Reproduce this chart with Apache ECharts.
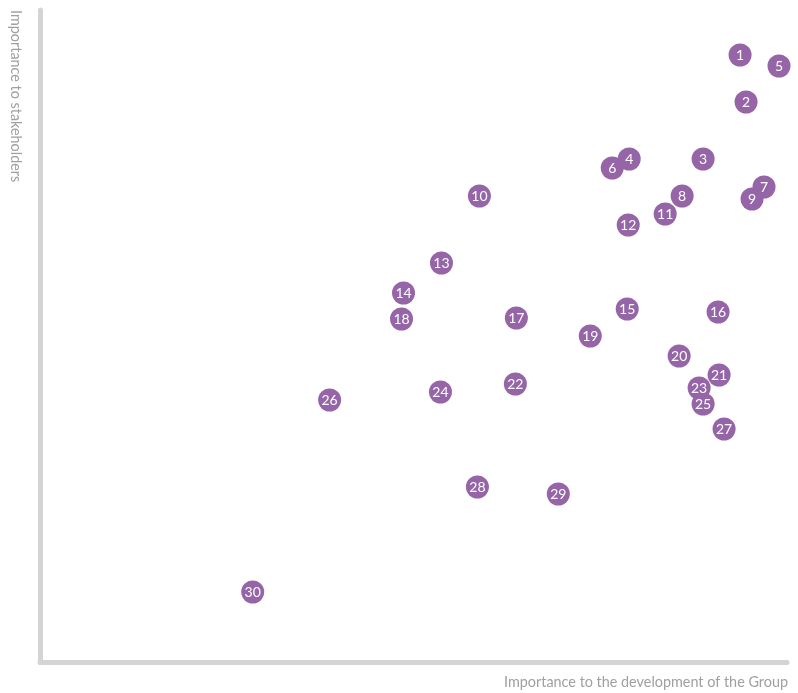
<!DOCTYPE html>
<html><head><meta charset="utf-8">
<script src="https://cdn.jsdelivr.net/npm/echarts@6/dist/echarts.min.js"></script>
<style>html,body{margin:0;padding:0;background:#fff}#c{width:798px;height:693px}</style>
</head><body><div id="c"></div>
<script>
// Issue ids and their positions (x: importance to Group development, y: importance to stakeholders)
const ids = [1,2,3,4,5,6,7,8,9,10,11,12,13,14,15,16,17,18,19,20,21,22,23,24,25,26,27,28,29,30];
const xVals = [701,707,664,590,740,573,725,643,713,440,626,589,402,364,588,679,477,362,551,640,680,476,660,401,664,290,685,438,519,213];
const yVals = [607,560,503,503,596,494,475,466,463,466,448,437,399,369,353,350,344,343,326,306,287,278,274,270,258,262,233,175,168,70];
const xName = 'Importance to the development of the Group';
const yName = 'Importance to stakeholders';

const data = ids.map((id,i)=>[xVals[i], yVals[i], id]);
const chart = echarts.init(document.getElementById('c'));
chart.setOption({
  animation:false,
  grid:{left:40,right:11,top:10,bottom:31},
  xAxis:{type:'value',min:0,max:748,
    axisLine:{show:true,lineStyle:{color:'#d4d4d4',width:5}},
    axisTick:{show:false},axisLabel:{show:false},splitLine:{show:false}},
  yAxis:{type:'value',min:0,max:652,
    axisLine:{show:true,lineStyle:{color:'#d4d4d4',width:5}},
    axisTick:{show:false},axisLabel:{show:false},splitLine:{show:false}},
  graphic:[
    {type:'text',right:10,top:675,style:{text:xName,fill:'#a0a0a0',font:'14.4px Lato',textAlign:'right'}},
    {type:'text',x:16,y:10,rotation:-Math.PI/2,style:{text:yName,fill:'#a0a0a0',font:'14.4px Lato',textAlign:'left',textVerticalAlign:'middle'}}
  ],
  series:[{type:'scatter',data:data,symbolSize:23,
    itemStyle:{color:'#9565a8',opacity:1},
    label:{show:true,position:'inside',formatter:p=>p.value[2],color:'#fff',fontSize:14,fontFamily:'Lato'}}]
});
</script></body></html>
